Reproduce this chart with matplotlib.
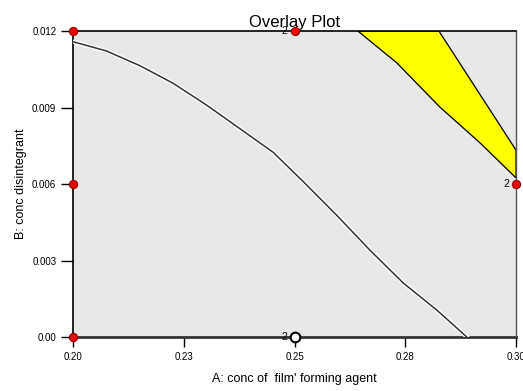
import matplotlib.pyplot as plt
import matplotlib.patheffects as pe
from matplotlib.patches import Polygon

# boundary contour (A, B)
curve_a = [0.2000, 0.2075, 0.2151, 0.2226, 0.2301, 0.2376, 0.2452, 0.2520,
           0.2595, 0.2670, 0.2746, 0.2821, 0.2889]
curve_b = [0.01158, 0.01122, 0.01064, 0.00995, 0.00910, 0.00818, 0.00724, 0.00609,
           0.00478, 0.00341, 0.00211, 0.00106, 0.0]

# yellow overlay (feasible) region
region_a = [0.2643, 0.2731, 0.2828, 0.2919, 0.3000, 0.3000, 0.2826]
region_b = [0.0120, 0.01075, 0.00902, 0.00761, 0.00624, 0.00733, 0.0120]

# design points
pts_a = [0.20, 0.20, 0.20, 0.25, 0.30]
pts_b = [0.000, 0.006, 0.012, 0.012, 0.006]
rep_a = [0.25, 0.30, 0.25]
rep_b = [0.012, 0.006, 0.000]
rep_n = ['2', '2', '2']

xticks = [0.20, 0.225, 0.25, 0.275, 0.30]
xtick_labels = ['0.20', '0.23', '0.25', '0.28', '0.30']
yticks = [0.0, 0.003, 0.006, 0.009, 0.012]
ytick_labels = ['0.00', '0.003', '0.006', '0.009', '0.012']

plt.rcParams['font.family'] = ['Liberation Sans Narrow', 'Liberation Sans', 'DejaVu Sans']

fig = plt.figure(figsize=(5.23, 3.91), dpi=100)
ax = fig.add_axes([0.1396, 0.1381, 0.847, 0.7826])
ax.set_facecolor('#e8e8e8')

ax.add_patch(Polygon(list(zip(region_a, region_b)), closed=True, facecolor='#ffff00',
                     edgecolor='black', linewidth=0.9, zorder=2))

ax.plot(curve_a, curve_b, color='#333333', linewidth=1.1, zorder=3,
        path_effects=[pe.Stroke(linewidth=3, foreground='white'), pe.Normal()])

ax.plot(pts_a, pts_b, 'o', color='#ee0000', markeredgecolor='#880000', markersize=6,
        markeredgewidth=0.7, clip_on=False, zorder=5)
ax.plot([0.25], [0.0], 'o', color='white', markeredgecolor='black', markersize=7,
        markeredgewidth=1.5, clip_on=False, zorder=5)
for a, b, n in zip(rep_a, rep_b, rep_n):
    ax.annotate(n, (a, b), xytext=(-5, 0), textcoords='offset points', ha='right',
                va='center', fontsize=7.5, zorder=6, annotation_clip=False)

ax.set_xlim(0.20, 0.30)
ax.set_ylim(0.0, 0.012)
ax.set_xticks(xticks)
ax.set_xticklabels(xtick_labels)
ax.set_yticks(yticks)
ax.set_yticklabels(ytick_labels)
ax.tick_params(axis='both', direction='out', labelsize=7, width=1)
ax.tick_params(axis='y', length=9, pad=3)
ax.tick_params(axis='x', length=7, pad=4)

for side in ['left', 'top']:
    ax.spines[side].set_color('black')
    ax.spines[side].set_linewidth(1.2)
ax.spines['bottom'].set_color('#333333')
ax.spines['bottom'].set_linewidth(2)
ax.spines['right'].set_color('#555555')
ax.spines['right'].set_linewidth(1)

ax.set_title('Overlay Plot', fontsize=12, pad=3)
ax.set_xlabel("A: conc of  film' forming agent", fontsize=9, labelpad=8)
ax.set_ylabel('B: conc disintegrant', fontsize=9, labelpad=4)

plt.savefig('out.png', dpi=100)
